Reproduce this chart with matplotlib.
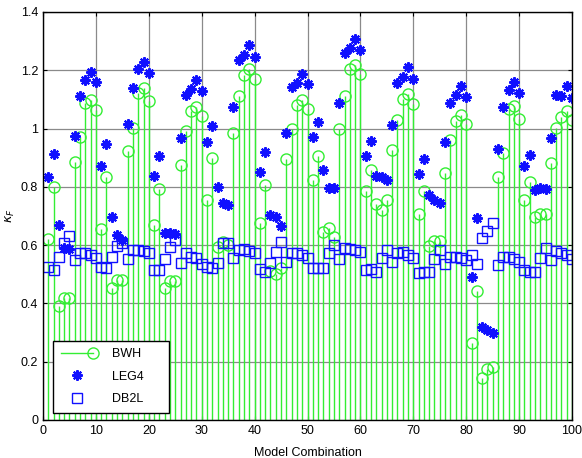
import numpy as np
import matplotlib
matplotlib.use('Agg')
import matplotlib.pyplot as plt
from matplotlib.lines import Line2D
from matplotlib.legend_handler import HandlerLine2D

plt.rcParams['font.family'] = ['Liberation Sans', 'DejaVu Sans']

model_idx = np.arange(1, 101)

bwh = [0.62, 0.80, 0.39, 0.42, 0.42, 0.886, 0.972, 1.089, 1.098, 1.064,
       0.654, 0.833, 0.452, 0.48, 0.48, 0.923, 1.001, 1.121, 1.138, 1.096,
       0.669, 0.792, 0.454, 0.478, 0.478, 0.875, 0.993, 1.061, 1.075, 1.043,
       0.755, 0.898, 0.595, 0.61, 0.60, 0.986, 1.112, 1.184, 1.203, 1.169,
       0.675, 0.806, 0.51, 0.50, 0.52, 0.894, 0.997, 1.081, 1.097, 1.066,
       0.824, 0.906, 0.646, 0.658, 0.629, 0.997, 1.112, 1.203, 1.218, 1.187,
       0.784, 0.858, 0.741, 0.721, 0.753, 0.927, 1.03, 1.10, 1.119, 1.084,
       0.707, 0.787, 0.597, 0.614, 0.614, 0.849, 0.961, 1.027, 1.047, 1.016,
       0.265, 0.444, 0.145, 0.174, 0.183, 0.835, 0.917, 1.066, 1.078, 1.032,
       0.755, 0.818, 0.698, 0.707, 0.707, 0.881, 1.001, 1.039, 1.061, 1.03]

leg4 = [0.835, 0.911, 0.669, 0.59, 0.585, 0.975, 1.112, 1.167, 1.195, 1.158,
        0.871, 0.946, 0.698, 0.635, 0.618, 1.015, 1.138, 1.203, 1.228, 1.19,
        0.837, 0.904, 0.64, 0.64, 0.638, 0.967, 1.115, 1.135, 1.167, 1.127,
        0.952, 1.007, 0.80, 0.744, 0.738, 1.073, 1.235, 1.253, 1.287, 1.247,
        0.852, 0.921, 0.703, 0.698, 0.666, 0.986, 1.144, 1.155, 1.187, 1.153,
        0.97, 1.024, 0.858, 0.795, 0.795, 1.087, 1.258, 1.275, 1.306, 1.27,
        0.906, 0.958, 0.837, 0.833, 0.824, 1.012, 1.155, 1.176, 1.21, 1.17,
        0.844, 0.895, 0.772, 0.755, 0.746, 0.952, 1.089, 1.115, 1.146, 1.109,
        0.492, 0.692, 0.32, 0.309, 0.30, 0.929, 1.075, 1.132, 1.158, 1.121,
        0.872, 0.909, 0.789, 0.795, 0.791, 0.967, 1.115, 1.112, 1.146, 1.104]

db2l = [0.526, 0.515, 0.56, 0.606, 0.63, 0.549, 0.574, 0.574, 0.566, 0.555,
        0.526, 0.52, 0.558, 0.597, 0.608, 0.551, 0.583, 0.583, 0.58, 0.572,
        0.515, 0.515, 0.551, 0.593, 0.618, 0.54, 0.572, 0.56, 0.555, 0.535,
        0.526, 0.52, 0.538, 0.606, 0.608, 0.555, 0.583, 0.585, 0.58, 0.572,
        0.517, 0.509, 0.538, 0.578, 0.612, 0.543, 0.574, 0.574, 0.566, 0.555,
        0.52, 0.52, 0.52, 0.574, 0.60, 0.551, 0.589, 0.585, 0.583, 0.576,
        0.515, 0.517, 0.509, 0.555, 0.583, 0.543, 0.574, 0.576, 0.566, 0.555,
        0.503, 0.506, 0.509, 0.551, 0.583, 0.535, 0.56, 0.56, 0.555, 0.549,
        0.566, 0.535, 0.623, 0.65, 0.677, 0.532, 0.56, 0.56, 0.551, 0.543,
        0.515, 0.509, 0.509, 0.555, 0.589, 0.549, 0.581, 0.574, 0.566, 0.551]

green = '#33ee33'
blue = '#1010ff'


class StemHandler(HandlerLine2D):
    # matlab style legend: line with the marker at its right end
    def create_artists(self, *args, **kwargs):
        arts = super().create_artists(*args, **kwargs)
        arts[0].set_markevery([2])
        return arts


fig = plt.figure(figsize=(5.82, 4.58), dpi=100)
ax = fig.add_axes([0.0739, 0.083, 0.909, 0.891])

ml, sl, bl = ax.stem(model_idx, bwh, basefmt=' ')
plt.setp(sl, color=green, linewidth=1.0)
plt.setp(ml, color=green, marker='o', markersize=8, markerfacecolor='none',
         markeredgewidth=1.0)

ax.plot(model_idx, leg4, linestyle='none', marker=(8, 2, 0), markersize=7.5,
        markeredgewidth=1.5, color=blue)
ax.plot(model_idx, db2l, linestyle='none', marker='s', markersize=7,
        markerfacecolor='none', markeredgewidth=1.0, color=blue)

ax.set_xlim(0, 100)
ax.set_ylim(0, 1.4)
ax.set_xticks(np.arange(0, 101, 10))
ax.set_yticks(np.arange(0, 1.41, 0.2))
ax.set_yticklabels(['0', '0.2', '0.4', '0.6', '0.8', '1', '1.2', '1.4'])
ax.grid(True, color='#8a8a8a', linewidth=0.9)
ax.tick_params(direction='in', top=True, right=True, length=3, labelsize=9)
for s in ax.spines.values():
    s.set_linewidth(1.0)

ax.set_xlabel('Model Combination', fontsize=9, labelpad=7)
ax.set_ylabel(r'$\kappa_F$', fontsize=9, labelpad=3)

h_bwh = Line2D([], [], color=green, marker='o', markersize=8,
               markerfacecolor='none', linewidth=1.0)
h_leg4 = Line2D([], [], color=blue, marker=(8, 2, 0), markersize=7.5,
                markeredgewidth=1.5, linestyle='none')
h_db2l = Line2D([], [], color=blue, marker='s', markersize=7,
                markerfacecolor='none', linestyle='none')
leg = ax.legend([h_bwh, h_leg4, h_db2l], ['BWH', 'LEG4', 'DB2L'],
                loc='lower left', bbox_to_anchor=(0.012, 0.008),
                numpoints=1, handlelength=2.6, handletextpad=1.5,
                labelspacing=0.85, borderpad=0.6, borderaxespad=0.3,
                fontsize=9, fancybox=False, framealpha=1, edgecolor='black',
                handler_map={h_bwh: StemHandler()})
leg.get_frame().set_linewidth(1.0)
# widen the box a little, matlab leaves room right of the labels
for t in leg.get_texts():
    t.set_text(t.get_text() + '     ')

fig.savefig('out.png', dpi=100)
